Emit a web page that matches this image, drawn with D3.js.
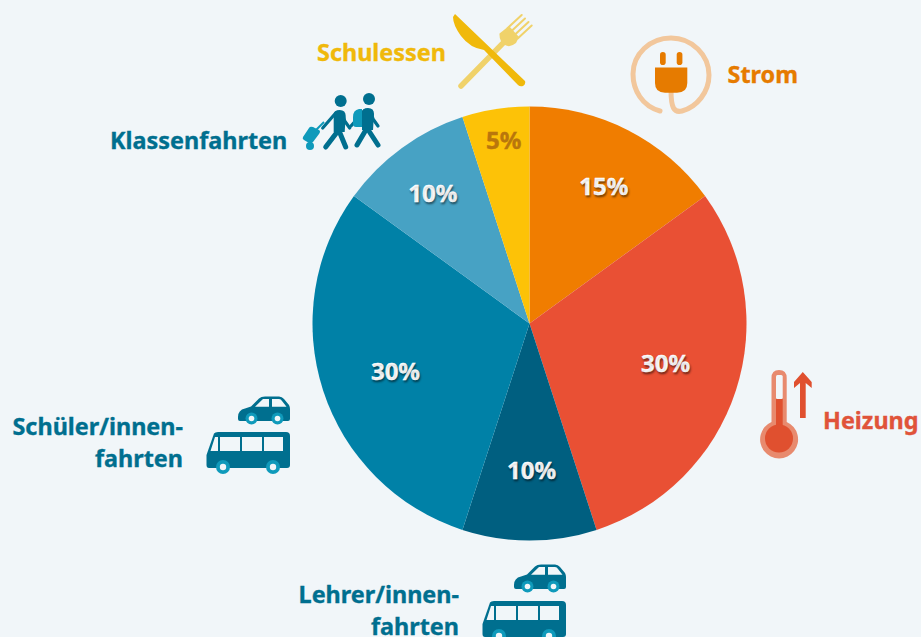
<!DOCTYPE html>
<html>
<head>
<meta charset="utf-8">
<script src="https://d3js.org/d3.v7.min.js"></script>
<style>
	html, body { margin: 0; padding: 0; background: #f1f6f9; overflow: hidden; }
	text { font-family: "Noto Sans", sans-serif; font-weight: 700; }
	.pct { font-size: 24px; stroke-width: 0.4; text-shadow: 1px 2px 2px rgba(0, 0, 0, 0.45); }
	.name { font-size: 23.4px; stroke-width: 0.35; }
</style>
</head>
<body>
<svg id="chart" width="921" height="637"></svg>
<script>
const categories = ["Strom", "Heizung", "Lehrer/innenfahrten", "Schüler/innenfahrten", "Klassenfahrten", "Schulessen"];
const shares = [15, 30, 10, 30, 10, 5];
const sliceColors = ["#f07d00", "#e95034", "#005f80", "#0081a7", "#47a2c4", "#fdc207"];
const pctColors = ["#fff", "#fff", "#fff", "#fff", "#fff", "#b9760c"];
// how far from the centre each percent label sits, plus a small hand nudge
const labelRadius = [155, 142, 147, 142, 161, 184];
const labelNudge = [[4, 1], [1, -4], [2, 0], [1, 4], [-2, 0], [3, -1]];

const TEAL = "#006f8f", TEAL_LIGHT = "#0f9abb", BG = "#f1f6f9";

let svg = d3.select("#chart");
let cx = 529.5, cy = 323.5, radius = 217;

let pie = d3.pie().sort(null).value(d => d);
let arc = d3.arc().innerRadius(0).outerRadius(radius);
let slices = pie(shares);

let g = svg.append("g").attr("transform", "translate(" + cx + "," + cy + ")");

g.selectAll("path")
	.data(slices)
	.enter()
	.append("path")
	.attr("d", arc)
	.attr("fill", (d, i) => sliceColors[i]);

g.selectAll("text")
	.data(slices)
	.enter()
	.append("text")
	.attr("class", "pct")
	.attr("transform", (d, i) =>
	{
		let c = d3.arc().innerRadius(labelRadius[i]).outerRadius(labelRadius[i]).centroid(d);
		return "translate(" + (c[0] + labelNudge[i][0]) + "," + (c[1] + labelNudge[i][1]) + ")";
	})
	.attr("text-anchor", "middle")
	.attr("dy", "0.36em")
	.attr("fill", (d, i) => pctColors[i])
	.attr("stroke", (d, i) => pctColors[i])
	.style("text-shadow", (d, i) => i == 5 ? "none" : null)
	.text(d => d.value + "%");

function label(lines, x, y, anchor, color)
{
	lines.forEach((t, i) =>
	{
		svg.append("text")
			.attr("class", "name")
			.attr("x", x)
			.attr("y", y + i * 32)
			.attr("text-anchor", anchor)
			.attr("fill", color)
			.attr("stroke", color)
			.text(t);
	});
}

label(["Schulessen"], 317, 61, "start", "#f0b90b");
label(["Strom"], 727.5, 83, "start", "#e67b00");
label(["Heizung"], 823, 429, "start", "#e0533a");
label(["Klassenfahrten"], 110, 148.5, "start", TEAL);
label(["Schüler/innen-", "fahrten"], 183, 434.5, "end", TEAL);
label(["Lehrer/innen-", "fahrten"], 459, 602.5, "end", TEAL);

function drawCar(x, y)
{
	let c = svg.append("g").attr("transform", "translate(" + x + "," + y + ")");
	c.append("path")
		.attr("fill", TEAL)
		.attr("d", "M0,21 Q0,14 7,12.5 L13,10.5 L21,2.5 Q23,0.5 27,0.5 L41,0.5 Q44,0.5 46,3 L51,9 Q52,11 52,13 L52,23 Q52,25 50,25 L2,25 Q0,25 0,23 Z");
	c.append("path").attr("fill", BG).attr("d", "M17,10.7 L25,3 L31,3 L31,10.7 Z M34,3 L41,3 Q43,3 44,5 L48.5,10.7 L34,10.7 Z");
	[13.5, 39.5].forEach(wx =>
	{
		c.append("circle").attr("cx", wx).attr("cy", 22.5).attr("r", 6).attr("fill", TEAL_LIGHT);
		c.append("circle").attr("cx", wx).attr("cy", 22.5).attr("r", 2.8).attr("fill", BG);
	});
}

function drawBus(x, y)
{
	let b = svg.append("g").attr("transform", "translate(" + x + "," + y + ")");
	b.append("path")
		.attr("fill", TEAL)
		.attr("d", "M8,2.5 Q9,1 12,1 L80,1 Q84,1 84,5 L84,34 Q84,37 81,37 L3,37 Q0.5,37 0.5,34 L0.5,24 Z");
	b.append("path").attr("fill", BG)
		.attr("d", "M4.5,20 L9,6 L12,6 L12,20 Z M14,6 L34,6 L34,20 L14,20 Z M36,6 L56,6 L56,20 L36,20 Z M58,6 L77,6 L77,20 L58,20 Z");
	[17, 67].forEach(wx =>
	{
		b.append("circle").attr("cx", wx).attr("cy", 36).attr("r", 7).attr("fill", TEAL_LIGHT);
		b.append("circle").attr("cx", wx).attr("cy", 36).attr("r", 3.2).attr("fill", BG);
	});
}

drawCar(238, 396);
drawBus(206, 431);
drawCar(514, 564);
drawBus(482, 600);

// Besteck
let cutlery = svg.append("g");
cutlery.append("path")
	.attr("fill", "none").attr("stroke", "#f0d26a").attr("stroke-width", 5.5).attr("stroke-linecap", "round")
	.attr("d", "M461,86 L508,38");
cutlery.append("path")
	.attr("fill", "#f0d26a")
	.attr("d", "M499.5,33.5 L509,26 L519,37 L516,43 Q510,48 505,45 Q499,41 499.5,33.5 Z");
[[521.7, 15], [525, 18.5], [528.5, 22], [531.7, 25.5]].forEach(t =>
{
	cutlery.append("line")
		.attr("x1", t[0]).attr("y1", t[1]).attr("x2", t[0] - 14).attr("y2", t[1] + 13)
		.attr("stroke", "#f0d26a").attr("stroke-width", 2).attr("stroke-linecap", "round");
});
cutlery.append("path")
	.attr("fill", "#f0b90b")
	.attr("d", "M455,14 L525,81 Q526,84 523,86 Q520,87 518,85 L484,50 Q470,48 461,36 Q453,25 453,17 Z");

// Stecker
let plug = svg.append("g");
plug.append("path")
	.attr("fill", "none").attr("stroke", "#f2c79c").attr("stroke-width", 5).attr("stroke-linecap", "round")
	.attr("d", "M660,111 C642,106 633,90 633,74 C633,54 650,38 671,38 C692,38 709,55 709,75 C709,92 697,107 682,111 C674,113 671,108 671,90");
plug.append("path")
	.attr("fill", "#e67b00")
	.attr("d", "M655,67.5 L687.3,67.5 L687.3,83 Q687.3,92.7 677,92.7 L665,92.7 Q655,92.7 655,83 Z");
plug.append("rect").attr("x", 660).attr("y", 52).attr("width", 5.7).attr("height", 13).attr("rx", 2.8).attr("fill", "#e67b00");
plug.append("rect").attr("x", 676.7).attr("y", 52).attr("width", 5.7).attr("height", 13).attr("rx", 2.8).attr("fill", "#e67b00");

// Thermometer
let thermo = svg.append("g");
thermo.append("path")
	.attr("fill", "#e88a6e")
	.attr("d", "M771.5,378 Q771.5,370 779,370 Q786.7,370 786.7,378 L786.7,422 A19,19 0 1 1 771.5,422 Z");
thermo.append("rect").attr("x", 776).attr("y", 375).attr("width", 6.7).attr("height", 24).attr("rx", 1.5).attr("fill", BG);
thermo.append("path").attr("fill", "#e0502f").attr("d", "M776,399 L782.7,399 L782.7,428 L776,428 Z");
thermo.append("circle").attr("cx", 779).attr("cy", 438.5).attr("r", 14).attr("fill", "#e0502f");
thermo.append("path").attr("fill", "#e0502f")
	.attr("d", "M800,418 L800,383 L794,388 L794,382 L802.8,372 L811.7,382 L811.7,388 L805.7,383 L805.7,418 Z");

// Wanderer
function drawWalker(x, y, legBack, legFront)
{
	let w = svg.append("g").attr("transform", "translate(" + x + "," + y + ")");
	w.append("circle").attr("r", 6).attr("fill", TEAL);
	w.append("path")
		.attr("fill", "none").attr("stroke", TEAL).attr("stroke-width", 5).attr("stroke-linecap", "round").attr("stroke-linejoin", "round")
		.attr("d", "M" + legBack + ",46 L-2,29 L" + legFront + ",46");
	w.append("path")
		.attr("fill", "none").attr("stroke", TEAL).attr("stroke-width", 3.2).attr("stroke-linecap", "round").attr("stroke-linejoin", "round")
		.attr("d", "M-5,12 L-18,27 M2,13 L4,20 L9,27");
	w.append("path").attr("fill", TEAL).attr("d", "M-7,14 Q-7,9 -1,9 Q5,9 5,15 L4,31 L-7,31 Z");
}
drawWalker(340.7, 101, -15, 5);
drawWalker(369, 99, -12, 9);
svg.append("path").attr("fill", TEAL_LIGHT).attr("d", "M353,117 Q353,110 359,109 L362,109 L362,127 L356,127 Q353,127 353,124 Z");
svg.append("path").attr("fill", TEAL_LIGHT).attr("d", "M303,137 L309,128 Q310,126 313,127 L319,130 Q321,131 319,134 L313,142 Q311,144 309,143 L304,140 Q302,139 303,137 Z");
svg.append("path").attr("fill", "none").attr("stroke", TEAL_LIGHT).attr("stroke-width", 2).attr("d", "M316,130 L324,122");
svg.append("circle").attr("cx", 310).attr("cy", 146).attr("r", 4).attr("fill", TEAL_LIGHT);
</script>
</body>
</html>
